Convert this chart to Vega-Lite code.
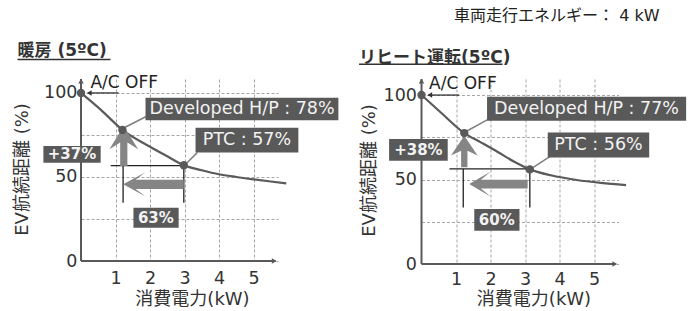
{
  "$schema": "https://vega.github.io/schema/vega-lite/v6.json",
  "background": "white",
  "padding": {"left": 13, "top": 7, "right": 0, "bottom": 0},
  "spacing": 143.5,
  "bounds": "flush",
  "config": {
    "view": {"stroke": null},
    "font": "DejaVu Sans, Noto Sans CJK JP",
    "axis": {
      "gridColor": "#a6a6a6", "gridDash": [3, 2], "gridWidth": 1,
      "labelFont": "DejaVu Sans, Noto Sans CJK JP", "labelFontSize": 17.5, "labelColor": "#333333",
      "titleFont": "DejaVu Sans, Noto Sans CJK JP", "titleFontSize": 18, "titleFontWeight": "normal", "titleColor": "#333333",
      "domain": false, "ticks": false, "tickSize": 0, "labelOverlap": false, "zindex": 0
    }
  },
  "hconcat": [
    {
      "width": 197, "height": 182,
      "encoding": {
        "x": {"field": "x", "type": "quantitative", "scale": {"domain": [0, 5.71], "nice": false, "zero": false},
          "axis": {"values": [1, 2, 3, 4, 5], "title": "消費電力(kW)", "titleX": 111, "titleY": 38, "titleAlign": "center", "titleBaseline": "middle", "grid": true, "labelPadding": 8}},
        "y": {"field": "y", "type": "quantitative", "scale": {"domain": [0, 108.3], "nice": false},
          "axis": {"values": [0, 25, 50, 75, 100], "labelExpr": "datum.value % 50 === 0 ? datum.label : ''", "title": "EV航続距離 (%)", "titleX": -58.8, "titleY": 90, "titleAngle": -90, "titleAlign": "center", "titleBaseline": "middle", "grid": true, "labelPadding": 4}}
      },
      "layer": [
        {"data": {"values": [{"x": 0, "y": 100}, {"x": 0.6, "y": 89.5}, {"x": 1.2, "y": 78}, {"x": 2.0, "y": 68}, {"x": 2.5, "y": 62.3}, {"x": 2.98, "y": 57}, {"x": 3.5, "y": 54}, {"x": 4.0, "y": 51.6}, {"x": 4.5, "y": 50}, {"x": 5.0, "y": 48.6}, {"x": 5.5, "y": 47.3}, {"x": 5.95, "y": 46.2}]},
          "mark": {"type": "line", "interpolate": "monotone", "color": "#5a5a5a", "strokeWidth": 2.2, "clip": false}},
        {"data": {"values": [{"x": 0, "y": 0, "x2": 5.64, "y2": 0}, {"x": 0, "y": 0, "x2": 0, "y2": 108.3}]},
          "mark": {"type": "rule", "color": "#595959", "strokeWidth": 2}, "encoding": {"x2": {"field": "x2"}, "y2": {"field": "y2"}}},
        {"data": {"values": [{"x": 5.6, "y": 0}]}, "mark": {"type": "point", "shape": "triangle-right", "filled": true, "opacity": 1, "size": 30, "color": "#595959"}},
        {"data": {"values": [{"x": 0, "y": 107}]}, "mark": {"type": "point", "shape": "triangle-up", "filled": true, "opacity": 1, "size": 30, "color": "#595959"}},
        {"data": {"values": [{"x": 1.09, "y": 100, "x2": 0.2, "y2": 100}]},
          "mark": {"type": "rule", "color": "#333333", "strokeWidth": 1.3}, "encoding": {"x2": {"field": "x2"}, "y2": {"field": "y2"}}},
        {"data": {"values": [{"x": 0.24, "y": 100}]}, "mark": {"type": "point", "shape": "triangle-left", "filled": true, "opacity": 1, "size": 30, "color": "#333333"}},
        {"data": {"values": [{"x": 0.86, "y": 56.8, "x2": 2.98, "y2": 56.8}, {"x": 1.22, "y": 56.8, "x2": 1.22, "y2": 34.7}, {"x": 2.98, "y": 57, "x2": 2.98, "y2": 34.7}]},
          "mark": {"type": "rule", "color": "#222222", "strokeWidth": 1.3}, "encoding": {"x2": {"field": "x2"}, "y2": {"field": "y2"}}},
        {"data": {"values": [{"x": 1.22, "y": 79, "x2": 1.92, "y2": 86.3}, {"x": 3.0, "y": 57, "x2": 3.37, "y2": 64.5}]},
          "mark": {"type": "rule", "color": "#7f7f7f", "strokeWidth": 1.5}, "encoding": {"x2": {"field": "x2"}, "y2": {"field": "y2"}}},
        {"data": {"values": [{"x": 1.24, "y": 68.5}]},
          "mark": {"type": "point", "shape": "M0,-1L0.72,0.17L0.18,-0.17L0.18,1L-0.18,1L-0.18,-0.17L-0.72,0.17Z", "filled": true, "opacity": 1, "size": 1600, "color": "#858585"}},
        {"data": {"values": [{"x": 2.1, "y": 45.6}]},
          "mark": {"type": "point", "shape": "M-1,0L-0.26,-0.4L-0.59,-0.15L1,-0.15L1,0.15L-0.59,0.15L-0.26,0.4Z", "filled": true, "opacity": 1, "size": 3672, "color": "#858585"}},
        {"data": {"values": [{"x": 0, "y": 100}, {"x": 1.2, "y": 78}, {"x": 2.98, "y": 57}]},
          "mark": {"type": "point", "filled": true, "opacity": 1, "size": 70, "color": "#595959"}},
        {"data": {"values": [{"x": 1.87, "x2": 7.46, "y": 97.2, "y2": 83.75}, {"x": 3.32, "x2": 6.3, "y": 79.3, "y2": 64.5}, {"x": -1.09, "x2": 0.57, "y": 68.5, "y2": 58.5}, {"x": 1.52, "x2": 2.83, "y": 31.7, "y2": 19.8}]},
          "mark": {"type": "rect", "color": "#595959", "clip": false}, "encoding": {"x2": {"field": "x2"}, "y2": {"field": "y2"}}},
        {"data": {"values": [{"x": 4.67, "y": 90.5, "label": "Developed H/P : 78%"}, {"x": 4.81, "y": 71.9, "label": "PTC : 57%"}]},
          "mark": {"type": "text", "fontSize": 17.5, "color": "#f2f2f2", "align": "center", "baseline": "middle"}, "encoding": {"text": {"field": "label"}}},
        {"data": {"values": [{"x": -0.26, "y": 63.5, "label": "+37%"}, {"x": 2.17, "y": 25.8, "label": "63%"}]},
          "mark": {"type": "text", "fontSize": 15, "fontWeight": "bold", "color": "#f2f2f2", "align": "center", "baseline": "middle"}, "encoding": {"text": {"field": "label"}}},
        {"data": {"values": [{"x": 0.275, "y": 106.1, "label": "A/C OFF"}]},
          "mark": {"type": "text", "fontSize": 17, "color": "#222222", "align": "left", "baseline": "middle"}, "encoding": {"text": {"field": "label"}}},
        {"data": {"values": [{"x": -1.84, "y": 125, "label": "暖房 (5ºC)"}]},
          "mark": {"type": "text", "fontSize": 17, "fontWeight": "bold", "color": "#333333", "align": "left", "baseline": "middle"}, "encoding": {"text": {"field": "label"}}},
        {"data": {"values": [{"x": -1.84, "y": 119.9, "x2": 0.855, "y2": 119.9}]},
          "mark": {"type": "rule", "color": "#333333", "strokeWidth": 1.5}, "encoding": {"x2": {"field": "x2"}, "y2": {"field": "y2"}}}
      ]
    },
    {
      "width": 197, "height": 185,
      "encoding": {
        "x": {"field": "x", "type": "quantitative", "scale": {"domain": [0, 5.71], "nice": false, "zero": false},
          "axis": {"values": [1, 2, 3, 4, 5], "title": "消費電力(kW)", "titleX": 112, "titleY": 35, "titleAlign": "center", "titleBaseline": "middle", "grid": true, "labelPadding": 6}},
        "y": {"field": "y", "type": "quantitative", "scale": {"domain": [0, 109.5], "nice": false},
          "axis": {"values": [0, 25, 50, 75, 100], "labelExpr": "datum.value % 50 === 0 ? datum.label : ''", "title": "EV航続距離 (%)", "titleX": -52.2, "titleY": 91, "titleAngle": -90, "titleAlign": "center", "titleBaseline": "middle", "grid": true, "labelPadding": 5}}
      },
      "layer": [
        {"data": {"values": [{"x": 0, "y": 100}, {"x": 0.56, "y": 89.7}, {"x": 1.24, "y": 77.5}, {"x": 1.72, "y": 72}, {"x": 2.21, "y": 66.3}, {"x": 2.69, "y": 60.5}, {"x": 3.14, "y": 56}, {"x": 3.75, "y": 52.5}, {"x": 4.5, "y": 49.7}, {"x": 5.2, "y": 48}, {"x": 5.93, "y": 46.7}]},
          "mark": {"type": "line", "interpolate": "monotone", "color": "#5a5a5a", "strokeWidth": 2.2, "clip": false}},
        {"data": {"values": [{"x": 0, "y": 0, "x2": 5.64, "y2": 0}, {"x": 0, "y": 0, "x2": 0, "y2": 109.5}]},
          "mark": {"type": "rule", "color": "#595959", "strokeWidth": 2}, "encoding": {"x2": {"field": "x2"}, "y2": {"field": "y2"}}},
        {"data": {"values": [{"x": 5.6, "y": 0}]}, "mark": {"type": "point", "shape": "triangle-right", "filled": true, "opacity": 1, "size": 30, "color": "#595959"}},
        {"data": {"values": [{"x": 0, "y": 108.3}]}, "mark": {"type": "point", "shape": "triangle-up", "filled": true, "opacity": 1, "size": 30, "color": "#595959"}},
        {"data": {"values": [{"x": 1.09, "y": 100, "x2": 0.2, "y2": 100}]},
          "mark": {"type": "rule", "color": "#333333", "strokeWidth": 1.3}, "encoding": {"x2": {"field": "x2"}, "y2": {"field": "y2"}}},
        {"data": {"values": [{"x": 0.24, "y": 100}]}, "mark": {"type": "point", "shape": "triangle-left", "filled": true, "opacity": 1, "size": 30, "color": "#333333"}},
        {"data": {"values": [{"x": 0.81, "y": 56.3, "x2": 3.14, "y2": 56.3}, {"x": 1.21, "y": 56.3, "x2": 1.21, "y2": 33.5}, {"x": 3.14, "y": 56, "x2": 3.14, "y2": 33.5}]},
          "mark": {"type": "rule", "color": "#222222", "strokeWidth": 1.3}, "encoding": {"x2": {"field": "x2"}, "y2": {"field": "y2"}}},
        {"data": {"values": [{"x": 1.25, "y": 78, "x2": 1.97, "y2": 86}, {"x": 3.15, "y": 56, "x2": 3.75, "y2": 64}]},
          "mark": {"type": "rule", "color": "#7f7f7f", "strokeWidth": 1.5}, "encoding": {"x2": {"field": "x2"}, "y2": {"field": "y2"}}},
        {"data": {"values": [{"x": 1.24, "y": 66.6}]},
          "mark": {"type": "point", "shape": "M0,-1L0.84,0.26L0.2,-0.05L0.2,1L-0.2,1L-0.2,-0.05L-0.84,0.26Z", "filled": true, "opacity": 1, "size": 1005, "color": "#858585"}},
        {"data": {"values": [{"x": 2.23, "y": 47.3}]},
          "mark": {"type": "point", "shape": "M-1,0L-0.26,-0.43L-0.6,-0.15L1,-0.15L1,0.15L-0.6,0.15L-0.26,0.43Z", "filled": true, "opacity": 1, "size": 3411, "color": "#858585"}},
        {"data": {"values": [{"x": 0, "y": 100}, {"x": 1.24, "y": 77.5}, {"x": 3.14, "y": 56}]},
          "mark": {"type": "point", "filled": true, "opacity": 1, "size": 70, "color": "#595959"}},
        {"data": {"values": [{"x": 1.9, "x2": 7.67, "y": 99, "y2": 84.8}, {"x": 3.66, "x2": 6.6, "y": 77.9, "y2": 63.1}, {"x": -0.94, "x2": 0.76, "y": 74, "y2": 61.1}, {"x": 1.53, "x2": 2.84, "y": 32.5, "y2": 19.7}]},
          "mark": {"type": "rect", "color": "#595959", "clip": false}, "encoding": {"x2": {"field": "x2"}, "y2": {"field": "y2"}}},
        {"data": {"values": [{"x": 4.78, "y": 91.9, "label": "Developed H/P : 77%"}, {"x": 5.13, "y": 70.5, "label": "PTC : 56%"}]},
          "mark": {"type": "text", "fontSize": 17.5, "color": "#f2f2f2", "align": "center", "baseline": "middle"}, "encoding": {"text": {"field": "label"}}},
        {"data": {"values": [{"x": -0.09, "y": 67.5, "label": "+38%"}, {"x": 2.18, "y": 26.1, "label": "60%"}]},
          "mark": {"type": "text", "fontSize": 15, "fontWeight": "bold", "color": "#f2f2f2", "align": "center", "baseline": "middle"}, "encoding": {"text": {"field": "label"}}},
        {"data": {"values": [{"x": 0.22, "y": 106.5, "label": "A/C OFF"}]},
          "mark": {"type": "text", "fontSize": 17, "color": "#222222", "align": "left", "baseline": "middle"}, "encoding": {"text": {"field": "label"}}},
        {"data": {"values": [{"x": 0.945, "y": 146.9, "label": "車両走行エネルギー： 4 kW"}]},
          "mark": {"type": "text", "fontSize": 16, "color": "#222222", "align": "left", "baseline": "middle"}, "encoding": {"text": {"field": "label"}}},
        {"data": {"values": [{"x": -1.81, "y": 122.2, "label": "リヒート運転(5ºC)"}]},
          "mark": {"type": "text", "fontSize": 17, "fontWeight": "bold", "color": "#333333", "align": "left", "baseline": "middle"}, "encoding": {"text": {"field": "label"}}},
        {"data": {"values": [{"x": -1.81, "y": 118.3, "x2": 2.35, "y2": 118.3}]},
          "mark": {"type": "rule", "color": "#333333", "strokeWidth": 1.5}, "encoding": {"x2": {"field": "x2"}, "y2": {"field": "y2"}}}
      ]
    }
  ]
}
